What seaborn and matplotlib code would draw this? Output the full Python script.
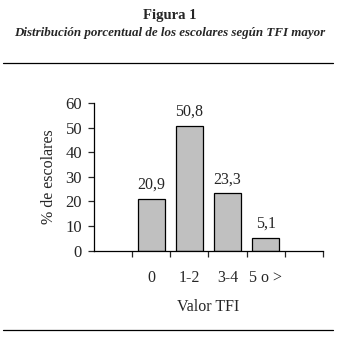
import matplotlib
matplotlib.use("Agg")
import matplotlib.pyplot as plt
import seaborn as sns
import pandas as pd
import numpy as np
from matplotlib.lines import Line2D

# Datos
categorias = ["0", "1-2", "3-4", "5 o >"]
porcentajes = [20.9, 50.8, 23.3, 5.1]
etiquetas = ["20,9", "50,8", "23,3", "5,1"]

df = pd.DataFrame({"TFI": categorias, "pct": porcentajes})

sns.set_style("white")
plt.rcParams["font.family"] = ["Liberation Serif", "DejaVu Serif"]

fig = plt.figure(figsize=(3.39, 3.39), dpi=100)
ax = fig.add_axes([0.277, 0.2605, 0.676, 0.4355])

sns.barplot(data=df, x="TFI", y="pct", order=categorias, color="#c0c0c0",
            edgecolor="black", linewidth=0.9, width=0.7, saturation=1, ax=ax)

for i, lab in enumerate(etiquetas):
    ax.text(i, porcentajes[i] + 2.5, lab, ha="center", va="bottom", fontsize=11.5,
            clip_on=False)

ax.set_xlim(-1.5, 4.5)
ax.set_ylim(0, 60)
ax.set_yticks(range(0, 61, 10))
ax.tick_params(axis="y", labelsize=12, length=4, width=0.9, left=True, pad=4.5)
ax.set_xticks(range(len(categorias)))
ax.set_xticklabels(categorias, fontsize=11.5)
ax.tick_params(axis="x", which="major", length=0, pad=14)
ax.set_xticks(np.arange(-0.5, 4.6, 1), minor=True)
ax.tick_params(axis="x", which="minor", length=4, width=0.9, bottom=True)

for s in ["top", "right"]:
    ax.spines[s].set_visible(False)
for s in ["left", "bottom"]:
    ax.spines[s].set_color("black")
    ax.spines[s].set_linewidth(0.9)

ax.set_xlabel("Valor TFI", fontsize=11.5, labelpad=9)
ax.set_ylabel("% de escolares", fontsize=11.5, labelpad=6)

fig.text(0.5, 1 - 16 / 339, "Figura 1", ha="center", va="center",
         fontsize=10.5, fontweight="bold")
fig.text(0.5, 1 - 33 / 339, "Distribución porcentual de los escolares según TFI mayor",
         ha="center", va="center", fontsize=9.4, fontweight="bold", style="italic")

fig.add_artist(Line2D([3 / 339, 333 / 339], [1 - 63 / 339, 1 - 63 / 339],
                      color="black", linewidth=0.9))
fig.add_artist(Line2D([3 / 339, 333 / 339], [1 - 330 / 339, 1 - 330 / 339],
                      color="black", linewidth=0.9))

fig.savefig("out.png", dpi=100, facecolor="white")
